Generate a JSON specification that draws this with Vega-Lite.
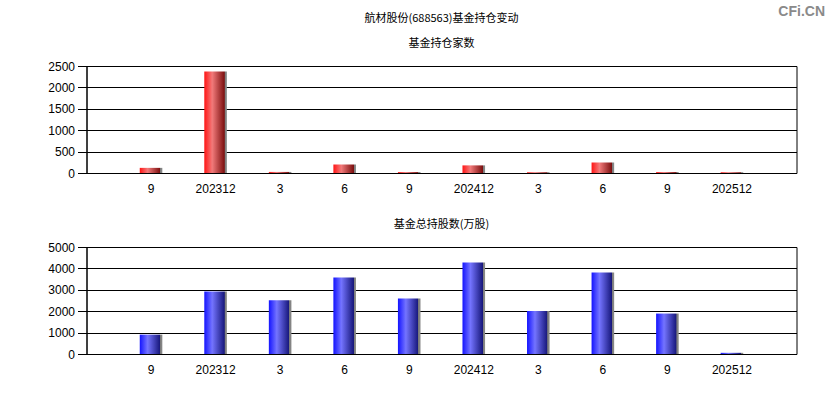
{
  "$schema": "https://vega.github.io/schema/vega-lite/v6.json",
  "background": {"gradient": "linear", "x1": 0, "y1": 0, "x2": 0, "y2": 1, "stops": [{"offset": 0, "color": "#add8e6"}, {"offset": 0.5, "color": "#d6e9f0"}, {"offset": 1, "color": "#fdf8f8"}]},
  "padding": {"left": 25.5, "top": 4, "right": 29, "bottom": 0},
  "title": {"text": "CFi.CN", "anchor": "end", "fontSize": 14, "fontWeight": "bold", "font": "Liberation Sans", "color": "#8a8a8a", "dx": 28, "offset": -6},
  "datasets": {
    "d": [
      {"q": "2023-09", "funds": 120, "shares": 905},
      {"q": "2023-12", "funds": 2370, "shares": 2920},
      {"q": "2024-03", "funds": 25, "shares": 2510},
      {"q": "2024-06", "funds": 200, "shares": 3580},
      {"q": "2024-09", "funds": 22, "shares": 2590},
      {"q": "2024-12", "funds": 178, "shares": 4280},
      {"q": "2025-03", "funds": 18, "shares": 2015},
      {"q": "2025-06", "funds": 248, "shares": 3810},
      {"q": "2025-09", "funds": 22, "shares": 1890},
      {"q": "2025-12", "funds": 18, "shares": 55}
    ]
  },
  "spacing": 19,
  "vconcat": [
    {
      "title": {"text": "航材股份(688563)基金持仓变动", "subtitle": "基金持仓家数", "subtitlePadding": 14, "offset": 11},
      "width": 710,
      "height": 107,
      "data": {"name": "d"},
      "mark": {"type": "bar", "width": {"band": 0.35}, "fill": {"gradient": "linear", "x1": 0, "y1": 0, "x2": 1, "y2": 0, "stops": [{"offset": 0, "color": "#ff1414"}, {"offset": 0.35, "color": "#f27a7a"}, {"offset": 0.89, "color": "#7d1010"}, {"offset": 0.91, "color": "#7a7a7a"}, {"offset": 1, "color": "#8c8c8c"}]}},
      "encoding": {
        "x": {"field": "q", "type": "ordinal", "sort": null, "title": null, "scale": {"paddingInner": 0, "paddingOuter": 0.5},
          "axis": {"labelAngle": 0, "bandPosition": 0.5, "ticks": false, "labelPadding": 10, "minExtent": 25, "maxExtent": 25,
            "labelExpr": "slice(datum.value,5)=='12' ? replace(datum.value,'-','') : ''+toNumber(slice(datum.value,5))"}},
        "y": {"field": "funds", "type": "quantitative", "title": null, "scale": {"domain": [0, 2500], "nice": false},
          "axis": {"values": [0, 500, 1000, 1500, 2000, 2500], "format": "d", "minExtent": 60, "maxExtent": 60}}
      }
    },
    {
      "title": {"text": "基金总持股数(万股)", "offset": 11},
      "width": 710,
      "height": 107,
      "data": {"name": "d"},
      "mark": {"type": "bar", "width": {"band": 0.35}, "fill": {"gradient": "linear", "x1": 0, "y1": 0, "x2": 1, "y2": 0, "stops": [{"offset": 0, "color": "#1414ff"}, {"offset": 0.35, "color": "#7474ff"}, {"offset": 0.89, "color": "#18187d"}, {"offset": 0.91, "color": "#7a7a7a"}, {"offset": 1, "color": "#8c8c8c"}]}},
      "encoding": {
        "x": {"field": "q", "type": "ordinal", "sort": null, "title": null, "scale": {"paddingInner": 0, "paddingOuter": 0.5},
          "axis": {"labelAngle": 0, "bandPosition": 0.5, "ticks": false, "labelPadding": 10, "minExtent": 25, "maxExtent": 25,
            "labelExpr": "slice(datum.value,5)=='12' ? replace(datum.value,'-','') : ''+toNumber(slice(datum.value,5))"}},
        "y": {"field": "shares", "type": "quantitative", "title": null, "scale": {"domain": [0, 5000], "nice": false},
          "axis": {"values": [0, 1000, 2000, 3000, 4000, 5000], "format": "d", "minExtent": 60, "maxExtent": 60}}
      }
    }
  ],
  "config": {
    "view": {"stroke": "#000000", "strokeWidth": 1},
    "axis": {
      "labelFont": "Liberation Sans", "labelFontSize": 12, "labelColor": "#000000",
      "gridColor": "#000000", "gridOpacity": 1, "gridWidth": 1,
      "domainColor": "#000000", "domainWidth": 1,
      "tickColor": "#000000", "tickSize": 9, "labelPadding": 3
    },
    "title": {"font": "Noto Sans CJK SC", "fontSize": 11, "fontWeight": "normal", "color": "#000000",
      "subtitleFont": "Noto Sans CJK SC", "subtitleFontSize": 11, "subtitleColor": "#000000", "anchor": "middle"}
  }
}
